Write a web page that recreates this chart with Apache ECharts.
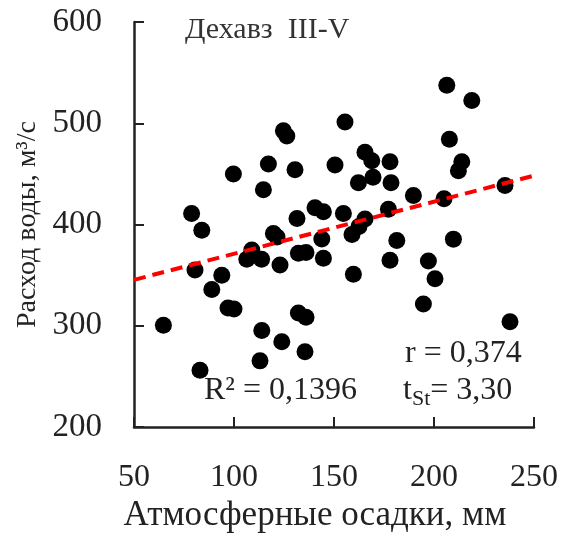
<!DOCTYPE html>
<html>
<head>
<meta charset="utf-8">
<script src="https://cdn.jsdelivr.net/npm/echarts@6/dist/echarts.min.js"></script>
<style>
html,body{margin:0;padding:0;background:#fff;}
#chart{width:573px;height:538px;}
</style>
</head>
<body>
<div id="chart"></div>
<script>
// Atmospheric precipitation, mm
const precipitation = [206.4,218.9,155.5,124.7,126.4,207.7,165.5,168.9,213.9,212.2,
  178.0,99.7,117.2,130.5,150.5,169.5,162.2,178.5,114.7,189.7,
  235.5,205.0,78.8,83.9,140.5,144.7,131.5,154.7,165.5,177.2,
  162.5,159.0,119.7,121.5,108.9,106.4,113.8,123.0,132.2,136.0,
  143.9,144.7,159.7,181.4,178.0,197.2,200.5,209.7,80.5,93.9,
  88.9,97.0,100.0,64.7,83.0,113.9,113.0,123.9,135.5,132.2,
  136.0,194.7,238.0];
// Water discharge, m3/s
const discharge = [537.5,522.5,501.3,492.5,487.5,484.3,471.3,463.0,462.1,453.2,
  462.1,450.0,459.8,454.2,458.8,446.8,441.2,441.2,434.3,428.7,
  438.5,425.5,410.8,394.4,416.7,412.7,405.9,410.8,405.4,415.2,
  398.0,390.2,391.2,387.7,374.8,365.7,365.7,360.1,371.6,372.5,
  385.8,366.7,351.0,384.3,364.7,364.0,346.4,385.6,355.2,350.0,
  335.8,317.6,316.7,300.5,256.2,295.4,265.4,284.3,274.5,312.7,
  308.5,321.6,304.0];
// Linear trend endpoints
const trendX = [50, 250];
const trendY = [345.4, 448.3];

const xTicks = {min: 50, max: 250, interval: 50};
const yTicks = {min: 200, max: 600, interval: 100};

const titleText = 'Дехавз  III-V';
const xName = 'Атмосферные осадки, мм';
const yName = 'Расход воды, м³/с';
const rText = 'r = 0,374';
const r2Text = 'R² = 0,1396';
const tValue = '= 3,30';

const FONT = '"Liberation Serif", "Times New Roman", serif';
const TXT = '#222';

const points = precipitation.map((x, i) => [x, discharge[i]]);
const trend = trendX.map((x, i) => [x, trendY[i]]);

const chart = echarts.init(document.getElementById('chart'), null, {renderer: 'canvas'});
chart.setOption({
  animation: false,
  backgroundColor: '#fff',
  grid: {left: 134, right: 39, top: 22, bottom: 107},
  xAxis: {
    type: 'value', min: xTicks.min, max: xTicks.max, interval: xTicks.interval,
    axisLine: {lineStyle: {color: '#222', width: 2.5}},
    axisTick: {inside: true, length: 10, lineStyle: {color: '#222', width: 2}},
    splitLine: {show: false},
    axisLabel: {color: TXT, fontFamily: FONT, fontSize: 32, margin: 34},
    name: xName, nameLocation: 'middle', nameGap: 69,
    nameTextStyle: {color: TXT, fontFamily: FONT, fontSize: 35, padding: [0, 38, 0, 0]}
  },
  yAxis: {
    type: 'value', min: yTicks.min, max: yTicks.max, interval: yTicks.interval,
    axisLine: {show: true, lineStyle: {color: '#222', width: 2.5}},
    axisTick: {show: true, inside: true, length: 10, lineStyle: {color: '#222', width: 2}},
    splitLine: {show: false},
    axisLabel: {color: TXT, fontFamily: FONT, fontSize: 33, margin: 32},
    name: yName, nameLocation: 'middle', nameGap: 88,
    nameTextStyle: {color: TXT, fontFamily: FONT, fontSize: 28}
  },
  series: [
    {
      type: 'scatter', data: points, symbol: 'circle', symbolSize: 17,
      itemStyle: {color: '#000', opacity: 1}, z: 3
    },
    {
      type: 'line', data: trend, symbol: 'none',
      lineStyle: {color: '#ff0000', width: 4, type: [12, 7]}, z: 4
    }
  ],
  graphic: [
    {type: 'text', left: 185, top: 15, style: {text: titleText, font: '30px ' + FONT, fill: '#333'}},
    {type: 'text', left: 405, top: 338, style: {text: rText, font: '32px ' + FONT, fill: TXT}},
    {type: 'text', left: 204, top: 375, style: {text: r2Text, font: '32px ' + FONT, fill: TXT}},
    {type: 'text', left: 403, top: 375, style: {
      text: '{m|t}{s|St}{m|' + tValue + '}',
      rich: {
        m: {font: '32px ' + FONT, fill: TXT, color: TXT},
        s: {font: '22px ' + FONT, fill: TXT, color: TXT, padding: [16, 0, 0, 0]}
      }
    }}
  ]
});
</script>
</body>
</html>
